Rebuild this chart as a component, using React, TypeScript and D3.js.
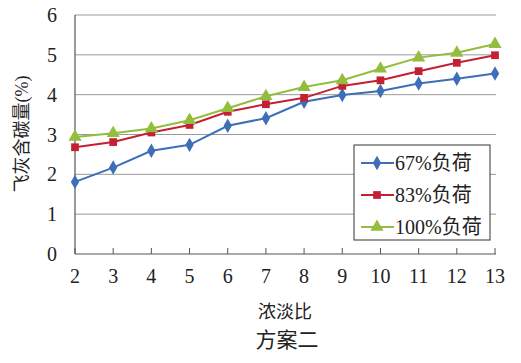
import React from "react";
import * as d3 from "d3";

// 浓淡比
const ratios = [2, 3, 4, 5, 6, 7, 8, 9, 10, 11, 12, 13];
const load67 = [1.81, 2.17, 2.59, 2.74, 3.22, 3.41, 3.82, 3.99, 4.09, 4.28, 4.4, 4.53];
const load83 = [2.68, 2.81, 3.05, 3.24, 3.57, 3.76, 3.92, 4.22, 4.36, 4.59, 4.8, 4.99];
const load100 = [2.94, 3.03, 3.15, 3.36, 3.66, 3.96, 4.19, 4.36, 4.65, 4.93, 5.05, 5.27];
const yTicks = [0, 1, 2, 3, 4, 5, 6];

const seriesNames = ["67%负荷", "83%负荷", "100%负荷"];
const seriesColors = ["#3D6FB8", "#C42034", "#93BD3C"];
const seriesSymbols = [d3.symbolDiamond, d3.symbolSquare, d3.symbolTriangle];
const symbolSizes = [60, 60, 75];

const W = 521;
const H = 363;
const latin = "Liberation Serif, Tinos, DejaVu Serif, serif";
const cjk = "Liberation Serif, Noto Sans CJK SC, serif";

export default function App() {
  const x = d3.scaleLinear().domain([2, 13]).range([75, 495]);
  const y = d3.scaleLinear().domain([0, 6]).range([254, 15]);
  const all = [load67, load83, load100];

  const line = d3
    .line<number>()
    .x((_, i) => x(ratios[i]))
    .y((d) => y(d));

  const sym = (i: number) => d3.symbol().type(seriesSymbols[i]).size(symbolSizes[i])() || "";

  const legendX = 354;
  const legendY = 145;

  return (
    <svg
      width={W}
      height={H}
      style={{ position: "absolute", left: 0, top: 0, background: "#fff" }}
    >
      {/* grid */}
      {yTicks.slice(1).map((t) => (
        <line key={t} x1={x(2)} x2={x(13) + 1} y1={y(t)} y2={y(t)} stroke="#9a9a9a" strokeWidth={1} />
      ))}
      {/* axes */}
      <line x1={x(2)} x2={x(2)} y1={y(6)} y2={y(0)} stroke="#555" strokeWidth={1.2} />
      <line x1={x(2)} x2={x(13) + 1} y1={y(0)} y2={y(0)} stroke="#555" strokeWidth={1.2} />
      {ratios.map((r) => (
        <line key={r} x1={x(r)} x2={x(r)} y1={y(0)} y2={y(0) - 6} stroke="#555" strokeWidth={1} />
      ))}
      {/* tick labels */}
      {yTicks.map((t) => (
        <text key={t} x={57} y={y(t)} dy="0.35em" textAnchor="end" fontFamily={latin} fontSize={20} fill="#222">
          {t}
        </text>
      ))}
      {ratios.map((r) => (
        <text key={r} x={x(r)} y={276} dy="0.35em" textAnchor="middle" fontFamily={latin} fontSize={20} fill="#222">
          {r}
        </text>
      ))}
      {/* series */}
      {all.map((vals, i) => (
        <g key={i}>
          <path d={line(vals) || ""} fill="none" stroke={seriesColors[i]} strokeWidth={2} />
          {vals.map((v, j) => (
            <path
              key={j}
              d={sym(i)}
              transform={`translate(${x(ratios[j])},${y(v)})`}
              fill={seriesColors[i]}
            />
          ))}
        </g>
      ))}
      {/* legend */}
      <rect x={legendX} y={legendY} width={136} height={95} fill="#fff" stroke="#333" strokeWidth={1} />
      {seriesNames.map((n, i) => {
        const cy = legendY + 18 + i * 32;
        return (
          <g key={n}>
            <line x1={legendX + 7} x2={legendX + 40} y1={cy} y2={cy} stroke={seriesColors[i]} strokeWidth={2} />
            <path d={sym(i)} transform={`translate(${legendX + 23},${cy})`} fill={seriesColors[i]} />
            <text x={legendX + 41} y={cy} dy="0.35em" fontFamily={cjk} fontSize={20} fill="#222">
              {n}
            </text>
          </g>
        );
      })}
      {/* axis titles */}
      <text
        transform={`translate(22,134) rotate(-90)`}
        textAnchor="middle"
        dy="0.35em"
        fontFamily={cjk}
        fontSize={18}
        fill="#222"
      >
        飞灰含碳量(%)
      </text>
      <text x={285} y={312} dy="0.35em" textAnchor="middle" fontFamily={cjk} fontSize={18} fill="#222">
        浓淡比
      </text>
      <text x={287} y={340} dy="0.35em" textAnchor="middle" fontFamily={cjk} fontSize={21} fill="#222">
        方案二
      </text>
    </svg>
  );
}
